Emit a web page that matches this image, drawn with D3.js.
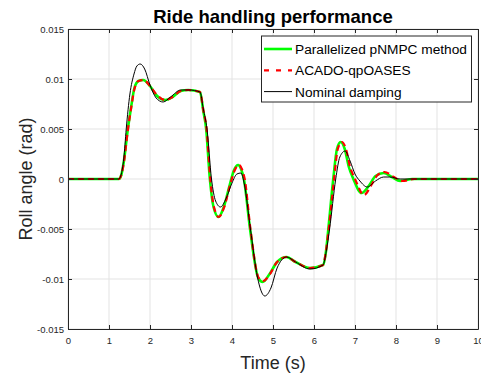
<!DOCTYPE html>
<html>
<head>
<meta charset="utf-8">
<script src="https://cdn.jsdelivr.net/npm/d3@7"></script>
<style>
  body { margin: 0; background: #fff; }
  svg { font-family: "Liberation Sans", Arial, sans-serif; }
</style>
</head>
<body>
<svg id="chart" width="481" height="377"></svg>
<script>
// data
const tPnmpc =    [0, 1.24, 1.3, 1.36, 1.46, 1.54, 1.62, 1.72, 1.83, 2.0, 2.15, 2.37, 2.55, 2.75, 2.93, 3.22, 3.3, 3.37, 3.46, 3.55, 3.67, 3.8, 3.95, 4.05, 4.15, 4.22, 4.29, 4.44, 4.64, 4.75, 4.9, 5.1, 5.33, 5.55, 5.9, 6.22, 6.3, 6.35, 6.47, 6.56, 6.65, 6.75, 6.85, 6.96, 7.16, 7.35, 7.5, 7.7, 7.9, 8.1, 8.4, 10]
const rollPnmpc = [0, 0, 0.0004, 0.0017, 0.005, 0.0072, 0.0091, 0.0098, 0.0099, 0.0093, 0.0084, 0.0079, 0.0082, 0.0088, 0.0089, 0.0087, 0.0068, 0.005, 0, -0.0028, -0.0038, -0.0028, -0.0005, 0.0009, 0.0014, 0.001, 0, -0.005, -0.0099, -0.0103, -0.0096, -0.0083, -0.0078, -0.0083, -0.0089, -0.0086, -0.007, -0.005, 0, 0.003, 0.0037, 0.003, 0.0012, 0, -0.0014, -0.0006, 0.0003, 0.0006, 0.0002, -0.0002, 0, 0]

const tAcado =    [0, 1.24, 1.3, 1.36, 1.46, 1.54, 1.62, 1.72, 1.84, 2.0, 2.15, 2.37, 2.55, 2.75, 2.93, 3.22, 3.3, 3.38, 3.47, 3.56, 3.68, 3.81, 3.96, 4.07, 4.17, 4.24, 4.31, 4.45, 4.65, 4.76, 4.91, 5.1, 5.33, 5.55, 5.9, 6.22, 6.3, 6.36, 6.49, 6.58, 6.68, 6.78, 6.88, 7.0, 7.22, 7.4, 7.55, 7.72, 7.95, 8.15, 8.45, 10]
const rollAcado = [0, 0, 0.0004, 0.0016, 0.0049, 0.0071, 0.009, 0.0098, 0.0099, 0.0093, 0.0085, 0.0079, 0.0082, 0.0088, 0.0089, 0.0087, 0.0069, 0.005, 0, -0.0028, -0.0038, -0.0028, -0.0005, 0.0009, 0.0014, 0.001, 0, -0.005, -0.0099, -0.0102, -0.0096, -0.0083, -0.0078, -0.0083, -0.0089, -0.0086, -0.007, -0.005, 0, 0.003, 0.0037, 0.003, 0.0012, 0, -0.0016, -0.0006, 0.0004, 0.0007, 0.0002, -0.0002, 0, 0]

const tNominal =    [0, 1.24, 1.3, 1.36, 1.42, 1.51, 1.61, 1.68, 1.76, 1.87, 2.0, 2.15, 2.32, 2.5, 2.75, 2.95, 3.22, 3.3, 3.39, 3.5, 3.6, 3.72, 3.85, 4.0, 4.12, 4.22, 4.3, 4.45, 4.62, 4.8, 4.95, 5.1, 5.33, 5.55, 5.9, 6.22, 6.3, 6.38, 6.53, 6.63, 6.76, 6.88, 7.0, 7.12, 7.3, 7.5, 7.7, 7.85, 8.1, 10]
const rollNominal = [0, 0, 0.0005, 0.002, 0.005, 0.0085, 0.0105, 0.0113, 0.0115, 0.011, 0.0094, 0.0081, 0.0077, 0.0082, 0.0089, 0.0089, 0.0087, 0.007, 0.005, 0, -0.0022, -0.0028, -0.002, -0.0004, 0.0005, 0.0006, -0.0005, -0.005, -0.0098, -0.0117, -0.0109, -0.0089, -0.0078, -0.0083, -0.009, -0.0086, -0.0072, -0.005, 0, 0.0022, 0.0028, 0.0018, 0.0005, -0.0002, -0.0008, -0.0002, 0.0002, 0.0002, 0, 0]

const xTicks = [0, 1, 2, 3, 4, 5, 6, 7, 8, 9, 10]
const yTicks = [-0.015, -0.01, -0.005, 0, 0.005, 0.01, 0.015]
const yTickLabels = ["-0.015", "-0.01", "-0.005", "0", "0.005", "0.01", "0.015"]
const legendNames = ["Parallelized pNMPC method", "ACADO-qpOASES", "Nominal damping"]

const series = [
  {t: tPnmpc, v: rollPnmpc, color: "#00ff00", width: 2.6, dash: null},
  {t: tAcado, v: rollAcado, color: "#ff0000", width: 2.2, dash: "6,4"},
  {t: tNominal, v: rollNominal, color: "#000000", width: 1, dash: null}
]

const svg = d3.select("#chart")
const axisColor = "#262626"

const x = d3.scaleLinear().domain([0, 10]).range([68, 478])
const y = d3.scaleLinear().domain([-0.015, 0.015]).range([329, 29])

// grid
svg.append("g").selectAll("line").data(xTicks).enter().append("line")
  .attr("x1", d => x(d)).attr("x2", d => x(d))
  .attr("y1", y(-0.015)).attr("y2", y(0.015))
  .attr("stroke", "#e3e3e3")
svg.append("g").selectAll("line").data(yTicks).enter().append("line")
  .attr("x1", x(0)).attr("x2", x(10))
  .attr("y1", d => y(d)).attr("y2", d => y(d))
  .attr("stroke", "#e3e3e3")

// curves
const line = d3.line().curve(d3.curveMonotoneX)
series.forEach(s => {
  const pts = s.t.map((t, i) => [x(t), y(s.v[i])])
  svg.append("path")
    .attr("d", line(pts))
    .attr("fill", "none")
    .attr("stroke", s.color)
    .attr("stroke-width", s.width)
    .attr("stroke-dasharray", s.dash)
})

// axes (MATLAB box with inward ticks)
function styleAxis(g) {
  g.select(".domain").attr("stroke", axisColor)
  g.selectAll(".tick line").attr("stroke", axisColor)
  g.selectAll(".tick text").attr("fill", axisColor).style("font-size", "9.5px")
  g.attr("font-family", null)
}
svg.append("g").attr("transform", "translate(0,329)")
  .call(d3.axisBottom(x).tickValues(xTicks).tickSize(-4).tickSizeOuter(0).tickPadding(8))
  .call(styleAxis)
svg.append("g").attr("transform", "translate(0,29)")
  .call(d3.axisTop(x).tickValues(xTicks).tickSize(-4).tickSizeOuter(0).tickFormat(""))
  .call(styleAxis)
svg.append("g").attr("transform", "translate(68,0)")
  .call(d3.axisLeft(y).tickValues(yTicks).tickSize(-4).tickSizeOuter(0).tickPadding(4)
    .tickFormat((d, i) => yTickLabels[i]))
  .call(styleAxis)
svg.append("g").attr("transform", "translate(478,0)")
  .call(d3.axisRight(y).tickValues(yTicks).tickSize(-4).tickSizeOuter(0).tickFormat(""))
  .call(styleAxis)

// title and labels
svg.append("text")
  .attr("x", 273).attr("y", 23)
  .attr("text-anchor", "middle")
  .style("font-size", "18.5px").style("font-weight", "bold")
  .text("Ride handling performance")
svg.append("text")
  .attr("x", 273).attr("y", 369)
  .attr("text-anchor", "middle")
  .attr("fill", axisColor)
  .style("font-size", "18px")
  .text("Time (s)")
svg.append("text")
  .attr("transform", "translate(32,179) rotate(-90)")
  .attr("text-anchor", "middle")
  .attr("fill", axisColor)
  .style("font-size", "18px")
  .text("Roll angle (rad)")

// legend
const lg = svg.append("g")
lg.append("rect")
  .attr("x", 261.5).attr("y", 36).attr("width", 210).attr("height", 66)
  .attr("fill", "#fff").attr("stroke", axisColor)
legendNames.forEach((name, i) => {
  const yy = 49 + i * 21.3
  lg.append("line")
    .attr("x1", 264).attr("x2", 292).attr("y1", yy).attr("y2", yy)
    .attr("stroke", series[i].color)
    .attr("stroke-width", series[i].width)
    .attr("stroke-dasharray", series[i].dash ? "5,7" : null)
  lg.append("text")
    .attr("x", 295).attr("y", yy + 5)
    .style("font-size", "13.7px")
    .text(name)
})
</script>
</body>
</html>
